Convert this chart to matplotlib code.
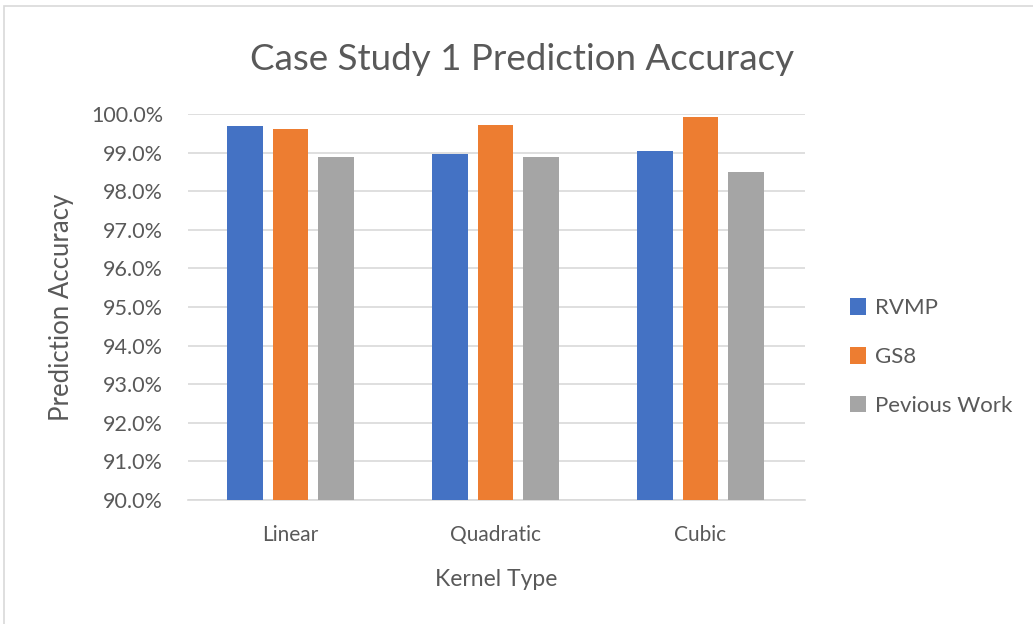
import matplotlib.pyplot as plt
import numpy as np
from matplotlib.patches import Rectangle
from matplotlib.ticker import PercentFormatter

plt.rcParams["font.family"] = ["Lato", "DejaVu Sans"]

# ---------------------------------------------------------------------------
# Data
# ---------------------------------------------------------------------------
kernels = ["Linear", "Quadratic", "Cubic"]
series_names = ["RVMP", "GS8", "Pevious Work"]
rvmp = [99.70, 98.97, 99.05]
gs8 = [99.61, 99.72, 99.93]
previous = [98.89, 98.89, 98.50]
colors = ["#4472C4", "#ED7D31", "#A5A5A5"]

text_grey = "#595959"

fig = plt.figure(figsize=(10.33, 6.24), dpi=100)
# thin grey frame round the chart area (cut off on right and bottom)
fig.patches.append(Rectangle((4 / 1033, -0.01), 1.2, 1.01 - 6 / 624,
                             transform=fig.transFigure, fill=False,
                             edgecolor="#D9D9D9", linewidth=1.2))
ax = fig.add_axes([188 / 1033, 1 - 500 / 624, 617 / 1033, 386 / 624])

x = np.arange(len(kernels))
width = 0.172
step = 0.222
for i, (name, vals) in enumerate(zip(series_names, [rvmp, gs8, previous])):
    ax.bar(x + (i - 1) * step, vals, width, color=colors[i], label=name, zorder=3)

ax.set_ylim(90, 100)
ax.set_xlim(-0.5, 2.51)
ax.set_yticks(np.arange(90, 100.1, 1))
ax.yaxis.set_major_formatter(PercentFormatter(decimals=1))
ax.set_xticks(x)
ax.set_xticklabels(kernels)
ax.grid(axis="y", color="#D9D9D9", linewidth=1.2, zorder=0)
for side in ["top", "right", "left"]:
    ax.spines[side].set_visible(False)
ax.spines["bottom"].set_color("#D9D9D9")
ax.spines["bottom"].set_linewidth(1.2)
ax.tick_params(length=0, colors=text_grey)
ax.tick_params(axis="y", labelsize=15.5, pad=18)
ax.tick_params(axis="x", labelsize=15, pad=18)

# title is centred on the whole chart, not on the plot area
ax.set_title("Case Study 1 Prediction Accuracy", fontsize=26.5, color=text_grey,
             pad=32, x=0.541)
ax.set_ylabel("Prediction Accuracy", fontsize=18.5, color=text_grey, labelpad=12)
ax.set_xlabel("Kernel Type", fontsize=16.5, color=text_grey, labelpad=17)

leg = ax.legend(loc="center left", bbox_to_anchor=(1.04, 0.37), frameon=False,
                fontsize=16, labelcolor=text_grey, handlelength=0.75,
                handleheight=0.75, handletextpad=0.4, labelspacing=1.3)

fig.savefig("out.png", dpi=100)
